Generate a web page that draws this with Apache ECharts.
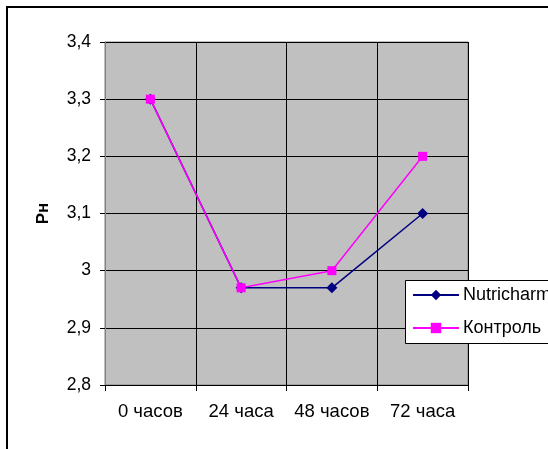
<!DOCTYPE html>
<html>
<head>
<meta charset="utf-8">
<script src="https://cdn.jsdelivr.net/npm/echarts@6/dist/echarts.min.js"></script>
<style>
  html, body { margin: 0; padding: 0; background: #fff; }
  #chart { width: 548px; height: 449px; }
</style>
</head>
<body>
<div id="chart"></div>
<script>
// данные графика
var categories = ['0 часов', '24 часа', '48 часов', '72 часа'];
var nutricharm = [3.3, 2.97, 2.97, 3.1];
var kontrol = [3.3, 2.97, 3.0, 3.2];
var seriesNames = ['Nutricharm', 'Контроль'];
var yMin = 2.8, yMax = 3.4, yStep = 0.1;

var FONT = 'Arial, "Liberation Sans", sans-serif';

function fmt(v) {
    var r = Math.round(v * 10) / 10;
    return String(r).replace('.', ',');
}

var myChart = echarts.init(document.getElementById('chart'));
var option = {
    animation: false,
    backgroundColor: '#fff',
    textStyle: { fontFamily: FONT },
    grid: {
        left: 105, right: 80, top: 42, bottom: 64,
        show: true,
        backgroundColor: '#c0c0c0',
        borderColor: '#808080',
        borderWidth: 1
    },
    graphic: [
        // рамка всей диаграммы
        { type: 'rect', z: 1, shape: { x: 7, y: 7, width: 600, height: 500 },
          style: { fill: null, stroke: '#000', lineWidth: 2 } },
        // рамка легенды
        { type: 'rect', z: 50, shape: { x: 405.5, y: 280.5, width: 200, height: 63 },
          style: { fill: '#fff', stroke: '#000', lineWidth: 1 } }
    ],
    legend: {
        z: 60,
        orient: 'vertical',
        left: 412,
        top: 286,
        padding: 0,
        itemWidth: 46,
        itemHeight: 13,
        itemGap: 15,
        data: seriesNames,
        textStyle: { fontSize: 18, color: '#000', fontFamily: FONT, padding: [0, 0, 0, -1] }
    },
    xAxis: {
        type: 'category',
        data: categories,
        boundaryGap: true,
        axisLine: { lineStyle: { color: '#000', width: 1 } },
        axisTick: { show: true, length: 6, interval: 0, lineStyle: { color: '#000' } },
        splitLine: { show: true, interval: 0, lineStyle: { color: '#000', width: 1 } },
        axisLabel: { fontSize: 18.5, color: '#000', margin: 17, interval: 0 }
    },
    yAxis: {
        type: 'value',
        min: yMin,
        max: yMax,
        interval: yStep,
        name: 'Рн',
        nameLocation: 'middle',
        nameRotate: 90,
        nameGap: 53,
        nameTextStyle: { fontSize: 17, fontWeight: 'bold', color: '#000' },
        axisLine: { show: true, lineStyle: { color: '#808080', width: 1 } },
        axisTick: { show: true, length: 5, lineStyle: { color: '#000' } },
        splitLine: { show: true, lineStyle: { color: '#000', width: 1 } },
        axisLabel: { fontSize: 17.5, color: '#000', margin: 14, formatter: fmt }
    },
    series: [{
        name: seriesNames[0],
        type: 'line',
        data: nutricharm,
        symbol: 'diamond',
        symbolSize: 11,
        itemStyle: { color: '#000080' },
        lineStyle: { color: '#000080', width: 1.5 }
    }, {
        name: seriesNames[1],
        type: 'line',
        data: kontrol,
        symbol: 'rect',
        symbolSize: 9,
        itemStyle: { color: '#ff00ff' },
        lineStyle: { color: '#ff00ff', width: 1.5 }
    }]
};
myChart.setOption(option);
</script>
</body>
</html>
